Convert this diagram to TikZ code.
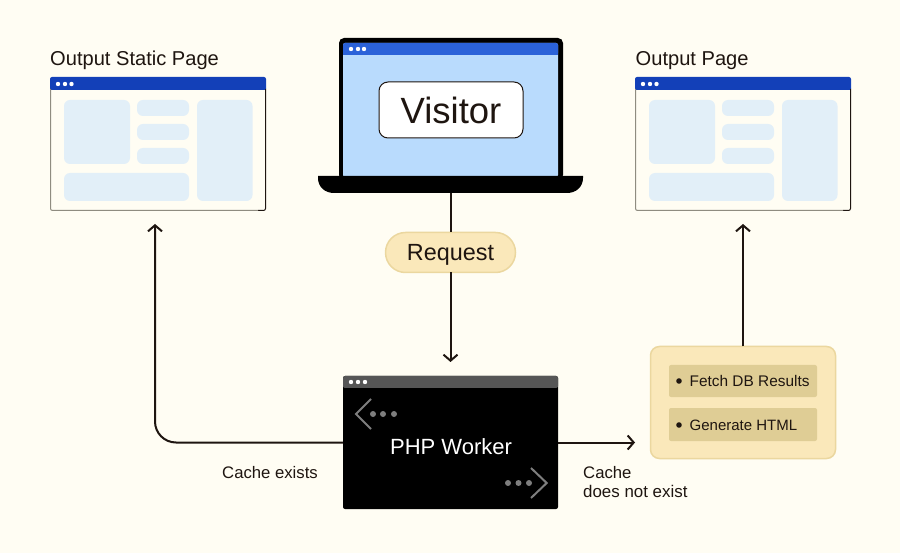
\documentclass[tikz,border=0pt]{standalone}
\usepackage{fontspec}
\setmainfont{Liberation Sans}
\usetikzlibrary{arrows.meta,calc}
\definecolor{pagebg}{HTML}{FFFDF3}
\definecolor{ink}{HTML}{1E1510}
\definecolor{barblue}{HTML}{1340B8}
\definecolor{lapblue}{HTML}{2B62D9}
\definecolor{screenblue}{HTML}{B9DBFD}
\definecolor{tile}{HTML}{E2EFF8}
\definecolor{sand}{HTML}{FAE8BA}
\definecolor{sandedge}{HTML}{EBD79F}
\definecolor{sandin}{HTML}{DFCD95}
\definecolor{grayedge}{HTML}{8F8C80}
\definecolor{phpbar}{HTML}{565656}
\definecolor{phpmark}{HTML}{7E7E7E}
\tikzset{
  x=1pt,y=-1pt,
  box/.style={inner sep=0pt,outer sep=0pt,anchor=north west},
  lbl/.style={inner sep=0pt,anchor=base west,text=ink},
  wire/.style={draw=ink,line width=2pt},
  arrowed/.style={wire,-{Straight Barb[length=6pt,width=14pt,line width=2pt]}},
  tilebox/.style={fill=tile,rounded corners=#1},
  whitedot/.style={circle,fill=white,minimum size=4.4pt,inner sep=0pt},
  graydot/.style={circle,fill=phpmark,minimum size=6pt,inner sep=0pt},
}
\newcommand{\pagewindow}[2]{%
  \begin{scope}[xshift=#1pt]
    \fill[rounded corners=2pt,fill=barblue] (50,77) rectangle (266,91);
    \fill[fill=pagebg] (50.5,90) rectangle (265.5,210);
    \draw[draw=ink,line width=1pt,rounded corners=2pt] (265.5,89) -- (265.5,210.5) -- (258,210.5);
    \draw[draw=grayedge,line width=1pt,rounded corners=2pt] (50.5,89) -- (50.5,210.5) -- (258,210.5);
    \node[whitedot] at (58,84) {};
    \node[whitedot] at (65,84) {};
    \node[whitedot] at (71.5,84) {};
    \fill[tilebox=6pt] (64,100) rectangle (130,164);
    \fill[tilebox=6pt] (137,100) rectangle (189,116);
    \fill[tilebox=6pt] (137,124) rectangle (189,140);
    \fill[tilebox=6pt] (137,148) rectangle (189,164);
    \fill[tilebox=6pt] (64,173) rectangle (189,201);
    \fill[tilebox=6pt] (197,100) rectangle (252.5,201);
    \node[box,minimum width=216pt,minimum height=134pt] (#2) at (50,77) {};
  \end{scope}}
\begin{document}
\begin{tikzpicture}
\useasboundingbox (0,0) rectangle (900,553);
\fill[pagebg] (0,0) rectangle (900,553);

% titles
\node[lbl,font=\fontsize{20.1}{22}\selectfont] (titleL) at (50,65.5) {Output Static Page};
\node[lbl,font=\fontsize{20.1}{22}\selectfont] (titleR) at (635.5,65.5) {Output Page};

% windows
\pagewindow{0}{winL}
\pagewindow{585}{winR}

% laptop
\fill[black,rounded corners=5pt] (339,38) rectangle (563,180);
\fill[screenblue,rounded corners=2pt] (343,43) rectangle (558,177);
\fill[lapblue,rounded corners=2pt] (343,43) rectangle (558,55);
\fill[lapblue] (343,50) rectangle (558,54.7);
\node[whitedot] at (351,49) {};
\node[whitedot] at (358,49) {};
\node[whitedot] at (364,49) {};
\path[fill=black] (318,176) -- (583,176) -- (583,178) .. controls (583,187) and (576,193) .. (567,193)
  -- (334,193) .. controls (325,193) and (318,187) .. (318,178) -- cycle;
\node[box,minimum width=265pt,minimum height=17pt] (laptop) at (318,176) {};
\node[box,draw=ink,fill=white,line width=1pt,rounded corners=9pt,minimum width=144pt,minimum height=56pt,
  font=\fontsize{36.5}{38}\selectfont,text=ink,text height=27pt,text depth=0pt] (visitor) at (379,82) {Visitor};

% request pill
\node[box,draw=sandedge,fill=sand,line width=1.5pt,rounded corners=20pt,minimum width=130pt,minimum height=40pt,
  font=\fontsize{23.4}{25}\selectfont,text=ink,text height=17pt,text depth=0pt] (request) at (385.5,232.5) {Request};

% PHP worker
\node[box,fill=black,rounded corners=2pt,minimum width=215pt,minimum height=133pt] (php) at (343,376) {};
\fill[phpbar,rounded corners=2pt] (343,376) rectangle (558,388);
\fill[phpbar] (343,382) rectangle (558,387.5);
\node[whitedot] at (351,382) {};
\node[whitedot] at (358,382) {};
\node[whitedot] at (365,382) {};
\node[inner sep=0pt,anchor=base,text=white,font=\fontsize{22}{24}\selectfont] (phplabel) at (451,454) {PHP Worker};
\draw[phpmark,line width=2pt] (371,399) -- (356,414) -- (371,429);
\node[graydot] at (373,414) {};
\node[graydot] at (383,414) {};
\node[graydot] at (394,414) {};
\draw[phpmark,line width=2pt] (531,468) -- (546.7,483) -- (531,498);
\node[graydot] at (508,483) {};
\node[graydot] at (518.5,483) {};
\node[graydot] at (529,483) {};

% yellow box
\node[box,draw=sandedge,fill=sand,line width=1.5pt,rounded corners=9pt,minimum width=185pt,minimum height=112pt] (steps) at (650.5,346.5) {};
\node[box,fill=sandin,rounded corners=2pt,minimum width=148pt,minimum height=32pt] (fetch) at (669,365) {};
\node[box,fill=sandin,rounded corners=2pt,minimum width=148pt,minimum height=33pt] (gen) at (669,408) {};
\fill[ink] (679,381) circle (2.8pt);
\fill[ink] (679,425) circle (2.8pt);
\node[lbl,font=\fontsize{15.4}{17}\selectfont] (fetchtxt) at (689.5,386.5) {Fetch DB Results};
\node[lbl,font=\fontsize{15}{17}\selectfont] (gentxt) at (689.5,430) {Generate HTML};

% labels
\node[lbl,font=\fontsize{16.7}{18}\selectfont] (cachey) at (222,478) {Cache exists};
\node[lbl,font=\fontsize{16.7}{18}\selectfont] (cachen1) at (583,478) {Cache};
\node[lbl,font=\fontsize{16.9}{18}\selectfont] (cachen2) at (583,497.5) {does not exist};

% connectors
\coordinate (upL) at (155,224);
\coordinate (cornerL) at (155,442.5);
\coordinate (endR) at (635,442.5);
\coordinate (upR) at (743,224);
\coordinate (tipD) at (450.5,362);
\draw[wire] (laptop.south -| request.north) -- (request.north);
\draw[arrowed] (request.south) -- (tipD);
\draw[arrowed,rounded corners=21pt] (php.west |- cornerL) -- (cornerL) -- (upL);
\draw[arrowed] (php.east |- endR) -- (endR);
\draw[arrowed] (upR |- steps.north) -- (upR);
\end{tikzpicture}
\end{document}
